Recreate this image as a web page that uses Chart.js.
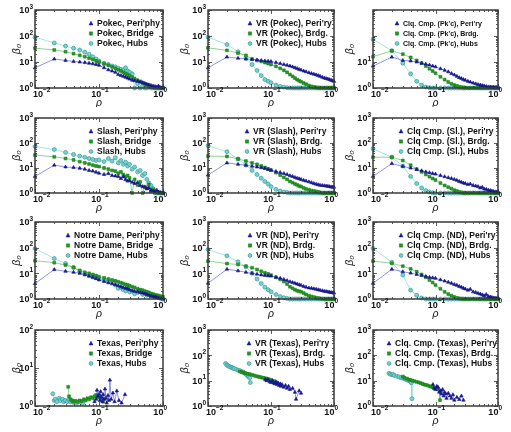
<!DOCTYPE html>
<html>
<head>
<meta charset="utf-8">
<script src="https://cdn.jsdelivr.net/npm/chart.js@4.4.1/dist/chart.umd.min.js"></script>
<style>
  html, body { margin: 0; padding: 0; background: #fff; }
  #fig { position: relative; width: 511px; height: 432px; overflow: hidden; }
  #fig canvas { position: absolute; }
</style>
</head>
<body>
<div id="fig"></div>
<script>
// --- data ---
const RHO = [0.01,0.02,0.03,0.04,0.05,0.06,0.07,0.08,0.09,0.10,
             0.12,0.14,0.16,0.18,0.20,0.22,0.24,0.26,0.28,0.30,
             0.33,0.36,0.40,0.44,0.48,0.52,0.56,0.60,0.65,0.70,
             0.75,0.80,0.85,0.90,0.95,1.00];

// Pokec
const POKEC_PERI   = [6,13,11.5,10.5,10,9.5,9,8.5,8,7.5, 6,5,4.5,4,3.3,3,2.8,2.6,2.4,2.2, 2,1.9,1.8,1.7,1.6,1.5,1.4,1.3,1.25,1.2, 1.15,1.1,1.2,1.05,1,1];
const POKEC_BRIDGE = [34,29,25,21,18,16,14,12.5,11,10, 8.5,7.5,6.5,5.7,5,4.5,4,3.6,3.3,3, 2.6,2.3,2,1.8,1.6,1.45,1.3,1.2,1.1,1.05, 1,1,1,1,1,1];
const POKEC_HUBS   = [90,54,41,34,29,24,20,16,13,11, 9,8,7,6.5,5.8,5.2,5,6,4.5,4, 3.5,1,1.5,1,1.2,1,1,1.3,1,1, 1,1,1,1,1,1];
const VR_POKEC_PERI   = [6,15.5,14,13,12.5,12,11.5,11,10.8,10.5, 9.5,8.7,8,7.5,7,6.5,6,5.6,5.2,4.9, 4.5,4.2,3.9,3.6,3.4,3.2,3,2.8,2.6,2.4, 2.3,2.2,2.1,2,1.9,1.8];
const VR_POKEC_BRIDGE = [35,28,22,18,13,11.5,10.5,9.5,8.7,8, 6.8,5.7,4.8,4,3.3,2.8,2.4,2.1,1.9,1.75, 1.55,1.4,1.25,1.15,1.1,1.05,1.03,1,1,1, 1,1,1,1,1,1];
const VR_POKEC_HUBS   = [90,47,25,14,8,4.7,3,2.1,1.8,1.6, 1.3,1.15,1.08,1.03,1,1,1,1,1,1, 1,1,1,1,1,1,1,1,1,1, 1,1,1,1,1,1];
const CLQ_POKEC_PERI   = [7,15.4,11.5,11,10,9,8.3,7.6,7,6.5, 5.5,4.8,4.2,3.6,3.2,2.8,2.5,2.3,2.1,2, 1.8,1.7,1.55,1.45,1.35,1.3,1.25,1.2,1.15,1.1, 1.1,1.08,1.07,1.05,1.05,1.05];
const CLQ_POKEC_BRIDGE = [16,27,20,15,11.5,9,7,5.5,4.5,3.7, 2.7,2.1,1.7,1.45,1.3,1.2,1.12,1.07,1.04,1.02, 1,1,1,1,1,1,1,1,1,1, 1,1,1,1,1,1];
const CLQ_POKEC_HUBS   = [75,27,9,3.5,1.8,1.3,1.1,1.03,1,1, 1,1,1,1,1,1,1,1,1,1, 1,1,1,1,1,1,1,1,1,1, 1,1,1,1,1,1];

// Slash
const SLASH_PERI   = [4.6,13,11,10.5,9.8,9,8,7.5,6.8,6.2, 5.5,6,5,4.8,4.6,3.8,4.5,3.4,3,3.1, 2.7,2.4,2.6,2,1.8,1.7,1.5,1.6,1.3,1.2, 1.15,1.3,1.1,1.05,1,1];
const SLASH_BRIDGE = [33,28,24,21,18,16,14.5,13,12,11.4, 10,9,8,7.5,6.2,7,5.5,4.5,5,4, 1,3.5,2.1,2.8,1,1.8,1.5,2.2,1.2,1.4, 1,1.1,1,1,1,1];
const SLASH_HUBS   = [72,55,42,35,30,27,24,22,20,21, 18,24,19,26,16,20,14,17,12,14, 9,11,7,8,5,6,3.5,2.5,2,1.5, 1.2,1,1,1,1,1];
const VR_SLASH_PERI   = [5.2,16,14,13,11.7,11,10.3,9.5,8.8,8.2, 7.3,6.6,6,5.5,4.9,4.6,4.2,3.9,3.7,3.5, 3.2,3,2.8,2.6,2.4,2.25,2.15,2.05,2,1.95, 1.9,1.85,1.8,1.75,1.7,1.7];
const VR_SLASH_BRIDGE = [30,29,23,19,16,14,12,10.5,9.2,8.2, 6.5,5.2,4.2,3.5,2.9,2.6,2.3,2.1,1.9,1.8, 1.6,1.45,1.35,1.25,1.2,1.15,1.1,1.05,1,1, 1,1,1,1,1,1];
const VR_SLASH_HUBS   = [78,45,23,13,8,5.5,3.9,2.9,2.3,1.8, 1.4,1.2,1.1,1.05,1,1,1,1,1,1, 1,1,1,1,1,1,1,1,1,1, 1,1,1,1,1,1];
const CLQ_SLASH_PERI   = [4.6,15,11.6,10,8.7,7.8,7,6.5,6,5.7, 5,4.5,4.1,3.8,3.5,3.2,2.9,2.7,2.5,2.4, 2.2,2.3,2,1.9,1.8,1.6,1.7,1.45,1.4,1.3, 1.25,1.2,1.15,1.1,1.1,1.1];
const CLQ_SLASH_BRIDGE = [27,27,20,13,9,7,5.5,4.5,3.8,3.3, 2.5,2,1.7,1.5,1.3,1.2,1.1,1.05,1,1, 1,1,1,1,1,1,1,1,1,1, 1,1,1,1,1,1];
const CLQ_SLASH_HUBS   = [59,27,12,4.6,2.4,1.6,1.25,1.1,1.03,1, 1,1,1,1,1,1,1,1,1,1, 1,1,1,1,1,1,1,1,1,1, 1,1,1,1,1,1];

// Notre Dame
const ND_PERI   = [4,14,12,11,10,8.8,7.8,7,6.2,5.5, 4.8,4.3,3.9,3.6,3.3,3,2.8,2.6,2.5,2.3, 2.1,2,1.9,1.8,1.7,1.6,1.5,1.4,1.3,1.25, 1.2,1.15,1.1,1.05,1.02,1];
const ND_BRIDGE = [31,26,21,17,13,11,10,9,8.2,7.4, 6.7,6,5.5,5.1,4.7,4.3,4,3.7,3.5,3.3, 3,2.8,2.5,2.3,2.2,2,1.9,1.8,1.65,1.55, 1.45,1.4,1.35,1.3,1.25,1.2];
const ND_HUBS   = [93,38,24,17,11.5,9.5,8,7.2,6.8,6.3, 5.5,5,4.7,3.5,2.6,2.8,2.3,2.1,2.5,1.9, 2,1.6,1.8,2.2,1.5,1.9,1.4,1.6,1.35,1.4, 1.25,1.2,1.15,1.1,1.05,1];
const VR_ND_PERI   = [4.1,14.5,12.5,11,10,9.3,8.7,8.3,8,7.8, 7,6.4,5.8,5.2,4.7,4.4,4.1,3.8,3.6,3.4, 3.1,2.9,2.7,2.6,2.5,2.4,2.3,2.2,2.1,2, 1.95,1.9,1.85,1.8,1.75,1.7];
const VR_ND_BRIDGE = [30,24,22,19,16.5,14,12,10.5,9.5,8.5, 7,5.8,4.8,3.8,3,2.6,2.3,2.1,2,1.9, 1.7,1.5,1.35,1.25,1.18,1.12,1.08,1.05,1.02,1, 1,1,1,1,1,1];
const VR_ND_HUBS   = [85,48,28,18,10,6,4,2.9,2.3,1.9, 1.5,1.25,1.12,1.05,1,1,1,1,1,1, 1,1,1,1,1,1,1,1,1,1, 1,1,1,1,1,1];
const CLQ_ND_PERI   = [4.1,14.4,11.6,10.2,9.1,8.3,7.6,7,6.7,6.4, 5.6,5,4.5,4.1,3.7,3.4,3.1,2.9,2.6,2.45, 2.2,2.4,1.9,1.8,1.66,1.55,1.45,1.35,1.5,1.25, 1.2,1.15,1.1,1.08,1.05,1.05];
const CLQ_ND_BRIDGE = [30,24.5,19,15,11.6,9,7,5.5,4.4,3.5, 2.5,1.9,1.55,1.35,1.2,1.1,1.05,1.02,1,1, 1,1,1,1,1,1,1,1,1,1, 1,1,1,1,1,1];
const CLQ_ND_HUBS   = [94,27,8.6,2.2,1.4,1.1,1,1,1,1, 1,1,1,1,1,1,1,1,1,1, 1,1,1,1,1,1,1,1,1,1, 1,1,1,1,1,1];

// Texas (own rho values per series)
const TX_HUBS_X   = [0.019,0.020,0.021,0.022,0.024,0.025,0.027,0.028,0.030,0.032,0.034,0.036,0.038,0.040,0.042,0.045,0.048,0.052,0.056];
const TX_HUBS_Y   = [2.1,1.4,1.5,1.3,1.6,1.4,1.5,1.3,1.4,1.3,1.45,1.3,1.35,1.25,1.3,1.2,1.3,1.25,1.2];
const TX_BRIDGE_X = [0.033,0.034,0.036,0.038,0.040,0.043,0.046,0.050,0.054,0.058,0.062,0.066,0.070,0.075,0.080,0.085,0.090,0.095,0.100,0.105,0.110,0.117];
const TX_BRIDGE_Y = [3.2,1.8,1.5,1.4,1.3,1.35,1.3,1.4,1.35,1.5,1.4,1.6,1.5,1.7,1.6,1.8,1.95,1.7,1.8,1.6,1.5,1.3];
const TX_PERI_X   = [0.085,0.090,0.093,0.096,0.100,0.103,0.106,0.110,0.113,0.116,0.120,0.124,0.128,0.132,0.138,0.143,0.148,0.155,0.165,0.175,0.190,0.205,0.225,0.255];
const TX_PERI_Y   = [1.3,1.5,2.6,1.8,2.0,1.4,2.4,1.7,1.3,2.0,1.5,2.8,1.6,1.2,1.9,1.4,4.8,1.5,2.2,1.3,2.5,1.4,1.2,2.0];
const VR_TX_HUBS_X   = [0.019,0.020,0.021,0.022,0.023,0.024,0.025,0.026,0.028,0.030,0.032,0.034,0.036,0.038,0.040,0.042,0.044,0.046,0.047];
const VR_TX_HUBS_Y   = [48,42,38,36,34,33,31,30,28,26,25,23,22,20,18,16,14,13,8.4];
const VR_TX_BRIDGE_X = [0.032,0.034,0.036,0.038,0.040,0.043,0.046,0.050,0.054,0.058,0.062,0.066,0.070,0.075,0.080,0.085,0.090,0.095,0.100,0.106,0.113,0.123];
const VR_TX_BRIDGE_Y = [23,22,21,20,19.5,18.5,18,17,16,15,14.5,14,13.5,13,12.5,12,11.5,11,10.5,10,9.5,8.4];
const VR_TX_PERI_X   = [0.081,0.085,0.090,0.095,0.100,0.105,0.110,0.115,0.120,0.125,0.130,0.135,0.140,0.145,0.150,0.160,0.170,0.180,0.190,0.200,0.220,0.240,0.250,0.280,0.300];
const VR_TX_PERI_Y   = [11,10,11,9,8.5,10,8,7.5,9,7,8,6.5,7.5,6,7,5.5,6.5,5,6,4.5,5,3.5,1.85,4,3.2];
const CLQ_TX_HUBS_X   = [0.018,0.019,0.020,0.021,0.022,0.024,0.026,0.028,0.030,0.032,0.034,0.036,0.038,0.040,0.041,0.042];
const CLQ_TX_HUBS_Y   = [19.5,18,17,17.5,16,15,14,13,12.5,12,11,10.5,10,9,8.2,1.95];
const CLQ_TX_BRIDGE_X = [0.030,0.032,0.035,0.038,0.040,0.043,0.046,0.050,0.054,0.058,0.062,0.066,0.070,0.075,0.080,0.085,0.090,0.095,0.100,0.105,0.110,0.117,0.118];
const CLQ_TX_BRIDGE_Y = [14.6,13,12,11,10.5,10,9.5,9,8.5,8,7.5,7,6.8,6.5,6,5.8,5.5,5.2,5,4.8,4.5,4,1.7];
const CLQ_TX_PERI_X   = [0.091,0.095,0.100,0.105,0.110,0.115,0.120,0.125,0.130,0.135,0.140,0.145,0.150,0.160,0.170,0.180,0.190,0.200,0.220,0.240,0.260,0.280];
const CLQ_TX_PERI_Y   = [7.1,5,4.5,6,5.5,3.5,4,3,4.5,2.5,3.5,3,2,3.2,2.5,2,2.8,1.7,2.2,1.8,2.5,1.7];

const LEGEND_LABELS = [
  ["Pokec, Peri'phy", "Pokec, Bridge", "Pokec, Hubs"],
  ["VR (Pokec), Peri'ry", "VR (Pokec), Brdg.", "VR (Pokec), Hubs"],
  ["Clq. Cmp. (Pk'c), Peri'ry", "Clq. Cmp. (Pk'c), Brdg.", "Clq. Cmp. (Pk'c), Hubs"],
  ["Slash, Peri'phy", "Slash, Bridge", "Slash, Hubs"],
  ["VR (Slash), Peri'ry", "VR (Slash), Brdg.", "VR (Slash), Hubs"],
  ["Clq Cmp. (Sl.), Peri'ry", "Clq Cmp. (Sl.), Brdg.", "Clq Cmp. (Sl.), Hubs"],
  ["Notre Dame, Peri'phy", "Notre Dame, Bridge", "Notre Dame, Hubs"],
  ["VR (ND), Peri'ry", "VR (ND), Brdg.", "VR (ND), Hubs"],
  ["Clq Cmp. (ND), Peri'ry", "Clq Cmp. (ND), Brdg.", "Clq Cmp. (ND), Hubs"],
  ["Texas, Peri'phy", "Texas, Bridge", "Texas, Hubs"],
  ["VR (Texas), Peri'ry", "VR (Texas), Brdg.", "VR (Texas), Hubs"],
  ["Clq. Cmp. (Texas), Peri'ry", "Clq. Cmp. (Texas), Brdg.", "Clq. Cmp. (Texas), Hubs"]
];

// --- series per panel: [peri, bridge, hubs] as [x, y] pairs ---
const PANEL_SERIES = [
  [[RHO, POKEC_PERI], [RHO, POKEC_BRIDGE], [RHO, POKEC_HUBS]],
  [[RHO, VR_POKEC_PERI], [RHO, VR_POKEC_BRIDGE], [RHO, VR_POKEC_HUBS]],
  [[RHO, CLQ_POKEC_PERI], [RHO, CLQ_POKEC_BRIDGE], [RHO, CLQ_POKEC_HUBS]],
  [[RHO, SLASH_PERI], [RHO, SLASH_BRIDGE], [RHO, SLASH_HUBS]],
  [[RHO, VR_SLASH_PERI], [RHO, VR_SLASH_BRIDGE], [RHO, VR_SLASH_HUBS]],
  [[RHO, CLQ_SLASH_PERI], [RHO, CLQ_SLASH_BRIDGE], [RHO, CLQ_SLASH_HUBS]],
  [[RHO, ND_PERI], [RHO, ND_BRIDGE], [RHO, ND_HUBS]],
  [[RHO, VR_ND_PERI], [RHO, VR_ND_BRIDGE], [RHO, VR_ND_HUBS]],
  [[RHO, CLQ_ND_PERI], [RHO, CLQ_ND_BRIDGE], [RHO, CLQ_ND_HUBS]],
  [[TX_PERI_X, TX_PERI_Y], [TX_BRIDGE_X, TX_BRIDGE_Y], [TX_HUBS_X, TX_HUBS_Y]],
  [[VR_TX_PERI_X, VR_TX_PERI_Y], [VR_TX_BRIDGE_X, VR_TX_BRIDGE_Y], [VR_TX_HUBS_X, VR_TX_HUBS_Y]],
  [[CLQ_TX_PERI_X, CLQ_TX_PERI_Y], [CLQ_TX_BRIDGE_X, CLQ_TX_BRIDGE_Y], [CLQ_TX_HUBS_X, CLQ_TX_HUBS_Y]]
];
const Y_MAX = [1000,1000,1000, 1000,1000,1000, 1000,1000,1000, 100,1000,1000];

// --- layout / style ---
const FONT = '"Liberation Sans", Arial, Helvetica, sans-serif';
const COLS = [
  { left: 0,   w: 170, plotL: 35, plotR: 163, titleX: 11 },
  { left: 170, w: 170, plotL: 38, plotR: 164, titleX: 9 },
  { left: 340, w: 171, plotL: 33, plotR: 158, titleX: 4 }
];
const ROWS = [
  { top: 0,   h: 107, plotT: 10, plotB: 88 },
  { top: 107, h: 106, plotT: 11, plotB: 86 },
  { top: 213, h: 107, plotT: 9,  plotB: 86 },
  { top: 320, h: 112, plotT: 10, plotB: 86 }
];
const LEGEND_POS = [62, 48, 30, 62, 45, 34, 39, 48, 34, 62, 47, 22];
const LEGEND_SIZE = [8.5, 8.5, 7, 8.5, 8.5, 8.5, 8.5, 8.5, 8.5, 8.5, 8.5, 8.5];
const STYLES = [
  { fill: '#16168f', stroke: '#16168f', line: 'rgba(60,60,210,0.8)', shape: 'triangle' },
  { fill: '#239a23', stroke: '#1a7f1a', line: 'rgba(60,170,60,0.8)', shape: 'rect' },
  { fill: '#74d3d0', stroke: '#2f8f8f', line: 'rgba(110,215,215,0.9)', shape: 'circle' }
];

function decadeMarks(min, max) {
  const out = [];
  for (let d = Math.floor(Math.log10(min)); d <= Math.ceil(Math.log10(max)); d++) {
    for (let k = 1; k <= 9; k++) {
      const v = k * Math.pow(10, d);
      if (v >= min * 0.999 && v <= max * 1.001) out.push({ v, major: k === 1, d });
    }
  }
  return out;
}

function powLabel(ctx, d, x, y, align, clampL, clampR) {
  const sup = d < 0 ? '\u2212' + (-d) : String(d);
  ctx.font = 'bold 9px ' + FONT;
  const wb = ctx.measureText('10').width;
  ctx.font = 'bold 6.5px ' + FONT;
  const ws = ctx.measureText(sup).width;
  const w = wb + ws;
  let x0;
  if (align === 'right') {
    x0 = x - w;
  } else {
    x0 = x - w / 2 + 1;
    if (clampL !== undefined) x0 = Math.max(x0, clampL);
    if (clampR !== undefined) x0 = Math.min(x0, clampR - w);
  }
  ctx.fillStyle = '#111';
  ctx.textAlign = 'left';
  ctx.textBaseline = 'alphabetic';
  ctx.font = 'bold 9px ' + FONT;
  ctx.fillText('10', x0, y);
  ctx.font = 'bold 6.5px ' + FONT;
  ctx.fillText(sup, x0 + wb, y - 4.4);
}

function drawMarker(ctx, shape, x, y, r) {
  ctx.beginPath();
  if (shape === 'triangle') {
    ctx.moveTo(x, y - r * 1.15);
    ctx.lineTo(x + r, y + r * 0.75);
    ctx.lineTo(x - r, y + r * 0.75);
    ctx.closePath();
  } else if (shape === 'rect') {
    ctx.rect(x - r * 0.85, y - r * 0.85, r * 1.7, r * 1.7);
  } else {
    ctx.arc(x, y, r, 0, Math.PI * 2);
  }
  ctx.fill();
  ctx.stroke();
}

const framePlugin = {
  id: 'frame',
  afterDraw(chart, args, opts) {
    const { ctx, chartArea: a, scales: { x, y } } = chart;
    ctx.save();
    ctx.strokeStyle = '#333';
    ctx.lineWidth = 0.8;
    ctx.beginPath();
    for (const t of decadeMarks(x.min, x.max)) {
      const px = Math.round(x.getPixelForValue(t.v)) + 0.5;
      const len = t.major ? 4 : 2;
      ctx.moveTo(px, a.bottom); ctx.lineTo(px, a.bottom - len);
      ctx.moveTo(px, a.top); ctx.lineTo(px, a.top + len);
    }
    for (const t of decadeMarks(y.min, y.max)) {
      const py = Math.round(y.getPixelForValue(t.v)) + 0.5;
      const len = t.major ? 4 : 2;
      ctx.moveTo(a.left, py); ctx.lineTo(a.left + len, py);
      ctx.moveTo(a.right, py); ctx.lineTo(a.right - len, py);
    }
    ctx.stroke();
    ctx.lineWidth = 1.5;
    ctx.strokeStyle = '#3a3a3a';
    ctx.strokeRect(a.left, a.top, a.right - a.left, a.bottom - a.top);

    // tick labels
    for (const t of decadeMarks(x.min, x.max)) {
      if (!t.major) continue;
      powLabel(ctx, t.d, x.getPixelForValue(t.v), a.bottom + 8.8, 'center', a.left - 2, a.right + 4);
    }
    for (const t of decadeMarks(y.min, y.max)) {
      if (!t.major) continue;
      if (opts.yShow && !opts.yShow.includes(t.d)) continue;
      powLabel(ctx, t.d, a.left - 2, y.getPixelForValue(t.v) + 3.2, 'right');
    }

    // legend
    const tx = a.left + opts.legendX;
    chart.data.datasets.forEach((ds, i) => {
      const ly = a.top + 13.5 + i * 10;
      const st = STYLES[i];
      ctx.fillStyle = st.fill;
      ctx.strokeStyle = st.stroke;
      ctx.lineWidth = 0.6;
      drawMarker(ctx, st.shape, tx - 6, ly, 1.9);
      ctx.fillStyle = '#111';
      ctx.font = 'bold ' + opts.legendSize + 'px ' + FONT;
      ctx.textAlign = 'left';
      ctx.textBaseline = 'middle';
      ctx.fillText(ds.label, tx, ly + 0.5);
    });
    ctx.restore();
  }
};

const fig = document.getElementById('fig');

PANEL_SERIES.forEach((series, p) => {
  const col = COLS[p % 3];
  const row = ROWS[Math.floor(p / 3)];
  const canvas = document.createElement('canvas');
  canvas.width = col.w;
  canvas.height = row.h;
  canvas.style.left = col.left + 'px';
  canvas.style.top = row.top + 'px';
  fig.appendChild(canvas);

  const datasets = series.map(([xs, ys], i) => ({
    label: LEGEND_LABELS[p][i],
    data: xs.map((v, k) => ({ x: v, y: ys[k] })),
    showLine: true,
    borderColor: STYLES[i].line,
    borderWidth: 0.7,
    pointStyle: STYLES[i].shape,
    pointRadius: 2,
    pointBackgroundColor: STYLES[i].fill,
    pointBorderColor: STYLES[i].stroke,
    pointBorderWidth: 0.6,
    tension: 0,
    clip: 3
  }));

  const titleSize = 10.5;
  const xTitleCenter = row.plotB + 15;

  new Chart(canvas, {
    type: 'scatter',
    data: { datasets },
    options: {
      responsive: false,
      animation: false,
      events: [],
      layout: { padding: { left: 0, top: row.plotT, right: col.w - col.plotR, bottom: 0 } },
      plugins: {
        legend: { display: false },
        tooltip: { enabled: false },
        frame: {
          legendX: LEGEND_POS[p],
          legendSize: LEGEND_SIZE[p],
          yShow: p === 2 ? [0, 1] : null
        }
      },
      scales: {
        x: {
          type: 'logarithmic',
          min: 0.01,
          max: 1,
          grid: { display: false },
          border: { display: false },
          ticks: { display: false },
          title: {
            display: true,
            text: 'ρ',
            color: '#111',
            font: { family: FONT, size: titleSize, style: 'italic' },
            padding: { top: 0, bottom: row.h - xTitleCenter - titleSize * 0.6 }
          },
          afterFit: s => { s.height = row.h - row.plotB; }
        },
        y: {
          type: 'logarithmic',
          min: 1,
          max: Y_MAX[p],
          grid: { display: false },
          border: { display: false },
          ticks: { display: false },
          title: {
            display: true,
            text: 'β₀',
            color: '#111',
            font: { family: FONT, size: titleSize, style: 'italic' },
            padding: { top: col.titleX, bottom: 0 }
          },
          afterFit: s => { s.width = col.plotL; }
        }
      }
    },
    plugins: [framePlugin]
  });
});
</script>
</body>
</html>
